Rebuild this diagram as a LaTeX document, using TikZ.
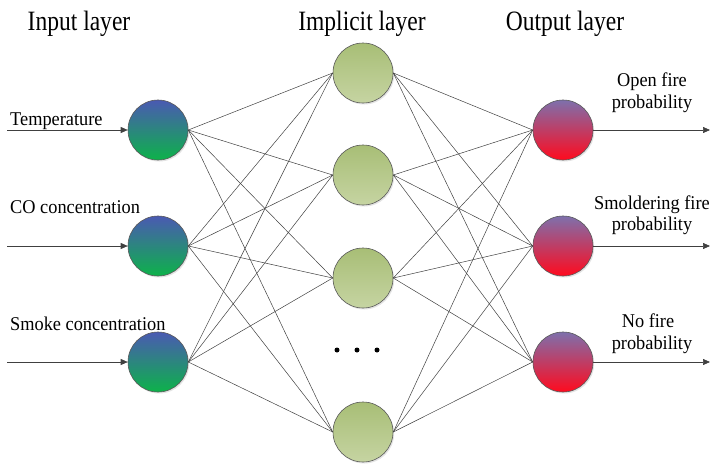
\documentclass[tikz,border=0pt]{standalone}
\usepackage{fontspec}
\setmainfont{Liberation Serif}
\newfontfamily\titlefont[FakeStretch=0.84]{Liberation Serif}
\newfontfamily\lblfont[FakeStretch=0.94]{Liberation Serif}
\usetikzlibrary{shadows,arrows.meta}
\definecolor{inTop}{HTML}{4A5AB2}
\definecolor{inBot}{HTML}{0DB24A}
\definecolor{hidTop}{HTML}{A8BE76}
\definecolor{hidBot}{HTML}{C6D4A2}
\definecolor{outTop}{HTML}{7E70AC}
\definecolor{outBot}{HTML}{FF0A1E}
\definecolor{lineCol}{HTML}{404040}
\begin{document}
\begin{tikzpicture}[x=1pt,y=-1pt,
  neuron/.style={circle, minimum size=60pt, inner sep=0pt, draw=black!65, line width=0.6pt,
    drop shadow={shadow xshift=1.2pt, shadow yshift=-1.5pt, opacity=0.22}},
  innode/.style={neuron, top color=inTop, bottom color=inBot},
  hidnode/.style={neuron, top color=hidTop, bottom color=hidBot},
  outnode/.style={neuron, top color=outTop, bottom color=outBot},
  link/.style={draw=lineCol, line width=0.5pt},
  io/.style={draw=lineCol, line width=0.7pt, -{Triangle[length=7pt,width=6pt]}},
  title/.style={font=\titlefont\fontsize{28}{30}\selectfont, anchor=base, inner sep=0pt},
  lbl/.style={font=\lblfont\fontsize{19.5}{22}\selectfont, inner sep=0pt},
  dot/.style={circle, fill=black, inner sep=0pt, minimum size=5pt}
]
\useasboundingbox (0,0) rectangle (710,467);

% titles
\node[title] (tIn) at (79,30) {Input layer};
\node[title] (tHid) at (362,30) {Implicit layer};
\node[title] (tOut) at (565,30) {Output layer};

% input nodes
\node[innode] (i1) at (158,130) {};
\node[innode] (i2) at (158,246) {};
\node[innode] (i3) at (158,362) {};

% hidden nodes
\node[hidnode] (h1) at (363,73) {};
\node[hidnode] (h2) at (363,175) {};
\node[hidnode] (h3) at (363,278) {};
\node[hidnode] (h4) at (363,432) {};

% output nodes
\node[outnode] (o1) at (563,130) {};
\node[outnode] (o2) at (563,246) {};
\node[outnode] (o3) at (563,362) {};

% dots
\node[dot] (d1) at (337,350) {};
\node[dot] (d2) at (357,350) {};
\node[dot] (d3) at (377,350) {};

% connections
\foreach \i in {1,2,3}{
  \foreach \h in {1,2,3,4}{
    \draw[link] (i\i.east) -- (h\h.west);
    \draw[link] (h\h.east) -- (o\i.west);
  }
}

% input arrows
\coordinate (a1) at (7,130);
\coordinate (a2) at (7,246);
\coordinate (a3) at (7,362);
\draw[io] (a1) -- (i1.west);
\draw[io] (a2) -- (i2.west);
\draw[io] (a3) -- (i3.west);

% output arrows
\coordinate (b1) at (710,130);
\coordinate (b2) at (710,246);
\coordinate (b3) at (710,362);
\draw[io] (o1.east) -- (b1);
\draw[io] (o2.east) -- (b2);
\draw[io] (o3.east) -- (b3);

% input labels
\node[lbl, anchor=base west] (l1) at (10,125) {Temperature};
\node[lbl, anchor=base west] (l2) at (10,213) {CO concentration};
\node[lbl, anchor=base west] (l3) at (10,330) {Smoke concentration};

% output labels
\node[lbl, anchor=base] (r1a) at (652,86) {Open fire};
\node[lbl, anchor=base] (r1b) at (652,108) {probability};
\node[lbl, anchor=base] (r2a) at (652,209) {Smoldering fire};
\node[lbl, anchor=base] (r2b) at (652,230) {probability};
\node[lbl, anchor=base] (r3a) at (648,327) {No fire};
\node[lbl, anchor=base] (r3b) at (652,349) {probability};
\end{tikzpicture}
\end{document}
